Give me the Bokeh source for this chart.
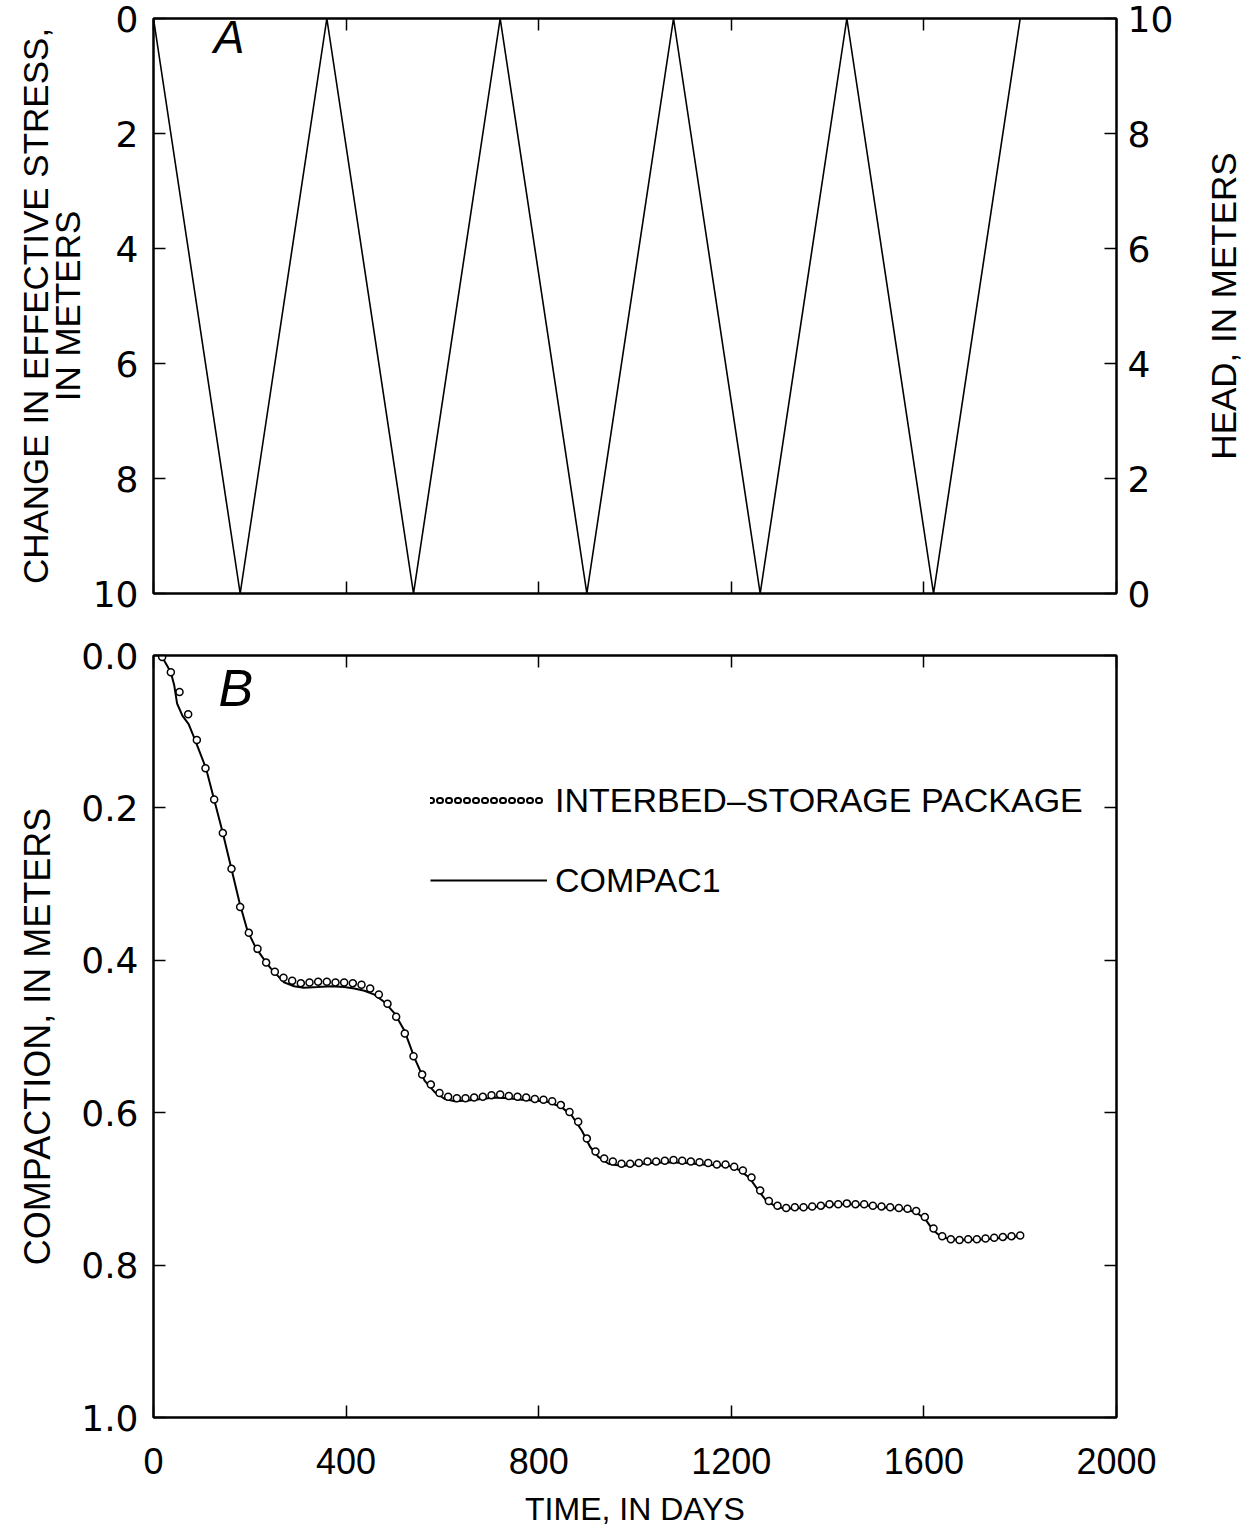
import math
from bokeh.plotting import figure
from bokeh.layouts import column, row
from bokeh.models import (Range1d, LinearAxis, FixedTicker, Legend, LegendItem,
                          Label, PrintfTickFormatter, CustomJSTickFormatter)
from bokeh.embed import file_html
from bokeh.resources import INLINE

# ---------------- data ----------------
# Panel A: triangular stress cycle (days, change in effective stress, m)
cycle_days = [0, 180, 360, 540, 720, 900, 1080, 1260, 1440, 1620, 1800]
stress_change = [0, 10, 0, 10, 0, 10, 0, 10, 0, 10, 0]

# Panel B: Interbed-Storage Package (circles)
ibs_days = [18, 36, 54, 72, 90, 108, 126, 144, 162, 180,
            198, 216, 234, 252, 270, 288, 306, 324, 342, 360,
            378, 396, 414, 432, 450, 468, 486, 504, 522, 540,
            558, 576, 594, 612, 630, 648, 666, 684, 702, 720,
            738, 756, 774, 792, 810, 828, 846, 864, 882, 900,
            918, 936, 954, 972, 990, 1008, 1026, 1044, 1062, 1080,
            1098, 1116, 1134, 1152, 1170, 1188, 1206, 1224, 1242, 1260,
            1278, 1296, 1314, 1332, 1350, 1368, 1386, 1404, 1422, 1440,
            1458, 1476, 1494, 1512, 1530, 1548, 1566, 1584, 1602, 1620,
            1638, 1656, 1674, 1692, 1710, 1728, 1746, 1764, 1782, 1800]
ibs_compaction = [0.002, 0.022, 0.048, 0.077, 0.111, 0.148, 0.189, 0.233, 0.280, 0.330,
                  0.364, 0.385, 0.403, 0.415, 0.423, 0.427, 0.430, 0.429, 0.428, 0.428,
                  0.429, 0.429, 0.430, 0.432, 0.437, 0.445, 0.457, 0.474, 0.496, 0.526,
                  0.550, 0.563, 0.574, 0.579, 0.581, 0.581, 0.580, 0.579, 0.577, 0.576,
                  0.578, 0.579, 0.580, 0.582, 0.583, 0.585, 0.590, 0.599, 0.612, 0.634,
                  0.651, 0.660, 0.664, 0.667, 0.667, 0.666, 0.664, 0.664, 0.663, 0.662,
                  0.663, 0.664, 0.665, 0.666, 0.668, 0.668, 0.671, 0.676, 0.685, 0.702,
                  0.716, 0.722, 0.725, 0.724, 0.724, 0.723, 0.722, 0.720, 0.720, 0.719,
                  0.720, 0.720, 0.722, 0.723, 0.724, 0.725, 0.726, 0.729, 0.737, 0.752,
                  0.762, 0.766, 0.767, 0.766, 0.766, 0.765, 0.764, 0.763, 0.762, 0.761]

# Panel B: COMPAC1 (solid line)
compac_days = [18, 36, 43, 49, 60, 73, 84, 109, 144, 179,
               195, 212, 233, 244, 271, 292, 312, 341, 369, 396,
               417, 438, 459, 480, 501, 521, 542, 563, 584, 605,
               626, 653, 681, 709, 737, 765, 792, 820, 848, 869,
               890, 907, 924, 945, 973, 1001, 1035, 1070, 1105, 1140,
               1174, 1196, 1216, 1237, 1254, 1272, 1292, 1313, 1348, 1383,
               1417, 1452, 1487, 1529, 1563, 1584, 1602, 1619, 1636, 1657,
               1688, 1730, 1765, 1799]
compac_values = [0.002, 0.022, 0.039, 0.063, 0.079, 0.090, 0.107, 0.148, 0.233, 0.325,
                 0.361, 0.383, 0.402, 0.411, 0.429, 0.434, 0.436, 0.435, 0.434, 0.435,
                 0.437, 0.440, 0.445, 0.455, 0.470, 0.492, 0.528, 0.558, 0.573, 0.582,
                 0.585, 0.584, 0.582, 0.580, 0.581, 0.583, 0.584, 0.586, 0.593, 0.604,
                 0.624, 0.645, 0.658, 0.667, 0.670, 0.668, 0.666, 0.665, 0.666, 0.668,
                 0.669, 0.670, 0.675, 0.685, 0.700, 0.715, 0.723, 0.726, 0.725, 0.723,
                 0.720, 0.720, 0.722, 0.725, 0.727, 0.731, 0.739, 0.754, 0.763, 0.766,
                 0.767, 0.766, 0.764, 0.762]

time_ticks = [0, 400, 800, 1200, 1600, 2000]
stress_ticks = [0, 2, 4, 6, 8, 10]
compaction_ticks = [0.0, 0.2, 0.4, 0.6, 0.8, 1.0]

# ---------------- styling ----------------
ROUND = "DejaVu Sans"
TITLE = "Liberation Sans"


def style_axis(ax, ticks, show_labels=True, label_font=ROUND, label_size="36px", standoff=15):
    ax.ticker = FixedTicker(ticks=ticks)
    ax.major_tick_in = 12
    ax.major_tick_out = 0
    ax.minor_tick_line_color = None
    ax.major_tick_line_color = "black"
    ax.major_tick_line_width = 1.5
    ax.axis_line_color = "black"
    ax.axis_line_width = 2
    ax.major_label_standoff = standoff
    ax.major_label_text_font = label_font
    ax.major_label_text_font_size = label_size
    ax.major_label_text_color = "black"
    ax.axis_label_text_font = TITLE
    ax.axis_label_text_font_style = "normal"
    ax.axis_label_text_color = "black"
    if not show_labels:
        ax.formatter = CustomJSTickFormatter(code="return ''")
        ax.major_label_standoff = 0


def clean(fig):
    fig.xgrid.visible = False
    fig.ygrid.visible = False
    fig.outline_line_color = "black"
    fig.outline_line_width = 2
    fig.background_fill_color = "white"
    fig.border_fill_color = "white"


# ---------------- Panel A ----------------
p1 = figure(width=1178, height=624, x_range=Range1d(0, 2000), y_range=Range1d(10, 0),
            output_backend="svg", toolbar_location=None,
            min_border_left=153, min_border_right=62, min_border_top=18, min_border_bottom=31)
clean(p1)
p1.extra_y_ranges = {"head": Range1d(0, 10)}
style_axis(p1.xaxis[0], time_ticks, show_labels=False)
style_axis(p1.yaxis[0], stress_ticks, standoff=15)
p1.yaxis[0].axis_label = "CHANGE IN EFFECTIVE STRESS,\nIN METERS"
p1.yaxis[0].axis_label_text_font_size = "35px"
p1.yaxis[0].axis_label_text_line_height = 0.8
p1.yaxis[0].axis_label_standoff = 3

top_ax1 = LinearAxis()
style_axis(top_ax1, time_ticks, show_labels=False)
p1.add_layout(top_ax1, "above")

right_ax1 = LinearAxis(y_range_name="head")
style_axis(right_ax1, stress_ticks, standoff=11)
p1.add_layout(right_ax1, "right")

p1.line(cycle_days, stress_change, line_color="black", line_width=1.6)

p1.add_layout(Label(x=125, y=0.33, text="A", text_font=TITLE, text_font_style="italic",
                    text_baseline="alphabetic", text_font_size="46px", text_color="black"))

# narrow companion figure carrying the right-hand title (reads bottom to top)
p_head = figure(width=67, height=624, x_range=Range1d(0, 1), y_range=Range1d(0, 10),
                output_backend="svg", toolbar_location=None,
                min_border_left=64, min_border_right=0, min_border_top=18, min_border_bottom=31)
p_head.xgrid.visible = False
p_head.ygrid.visible = False
p_head.outline_line_color = None
p_head.background_fill_color = "white"
p_head.border_fill_color = "white"
p_head.xaxis.visible = False
hax = p_head.yaxis[0]
hax.ticker = FixedTicker(ticks=[])
hax.major_tick_line_color = None
hax.minor_tick_line_color = None
hax.axis_line_color = None
hax.major_label_standoff = 0
hax.formatter = CustomJSTickFormatter(code="return ''")
hax.axis_label = "HEAD, IN METERS"
hax.axis_label_text_font = TITLE
hax.axis_label_text_font_style = "normal"
hax.axis_label_text_font_size = "35px"
hax.axis_label_text_color = "black"
hax.axis_label_standoff = 0

# ---------------- Panel B ----------------
p2 = figure(width=1245, height=913, x_range=Range1d(0, 2000), y_range=Range1d(1.0, 0.0),
            output_backend="svg", toolbar_location=None,
            min_border_left=153, min_border_right=129, min_border_top=31, min_border_bottom=120)
clean(p2)

style_axis(p2.xaxis[0], time_ticks, label_font=TITLE, label_size="36px", standoff=30)
p2.xaxis[0].axis_label = "TIME, IN DAYS"
p2.xaxis[0].axis_label_text_font_size = "32px"
p2.xaxis[0].axis_label_standoff = 14

style_axis(p2.yaxis[0], compaction_ticks, standoff=15)
p2.yaxis[0].formatter = PrintfTickFormatter(format="%.1f")
p2.yaxis[0].axis_label = "COMPACTION, IN METERS"
p2.yaxis[0].axis_label_text_font_size = "36px"
p2.yaxis[0].axis_label_standoff = 20

top_ax2 = LinearAxis()
style_axis(top_ax2, time_ticks, show_labels=False)
p2.add_layout(top_ax2, "above")
right_ax2 = LinearAxis()
style_axis(right_ax2, compaction_ticks, show_labels=False)
p2.add_layout(right_ax2, "right")

r_compac = p2.line(compac_days, compac_values, line_color="black", line_width=2)
p2.scatter(ibs_days, ibs_compaction, marker="circle", size=7, fill_color="white",
           line_color="black", line_width=1.5)

# legend samples (row of small rings); single off-range point so nothing shows in the plot
r_dot_outer = p2.line(x=[0], y=[2], line_color="black", line_width=7, line_dash="1 8",
                      line_cap="round")
r_dot_inner = p2.line(x=[0], y=[2], line_color="white", line_width=3, line_dash="1 8",
                      line_cap="round")

legend = Legend(items=[
    LegendItem(label="INTERBED–STORAGE PACKAGE", renderers=[r_dot_outer, r_dot_inner]),
    LegendItem(label="COMPAC1", renderers=[r_compac]),
], location=(277, 515), glyph_width=117, glyph_height=44, label_height=44, spacing=36,
    label_standoff=8, padding=0, margin=0, border_line_color=None,
    background_fill_alpha=0, label_text_font=TITLE, label_text_font_size="34px",
    label_text_color="black")
p2.add_layout(legend, "center")

p2.add_layout(Label(x=135, y=0.043, text="B", text_font=TITLE, text_font_style="italic",
                    text_baseline="alphabetic", text_font_size="52px", text_color="black"))

layout = column(row(p1, p_head, spacing=0), p2, spacing=0)
open("out.html", "w").write(file_html(layout, INLINE))
